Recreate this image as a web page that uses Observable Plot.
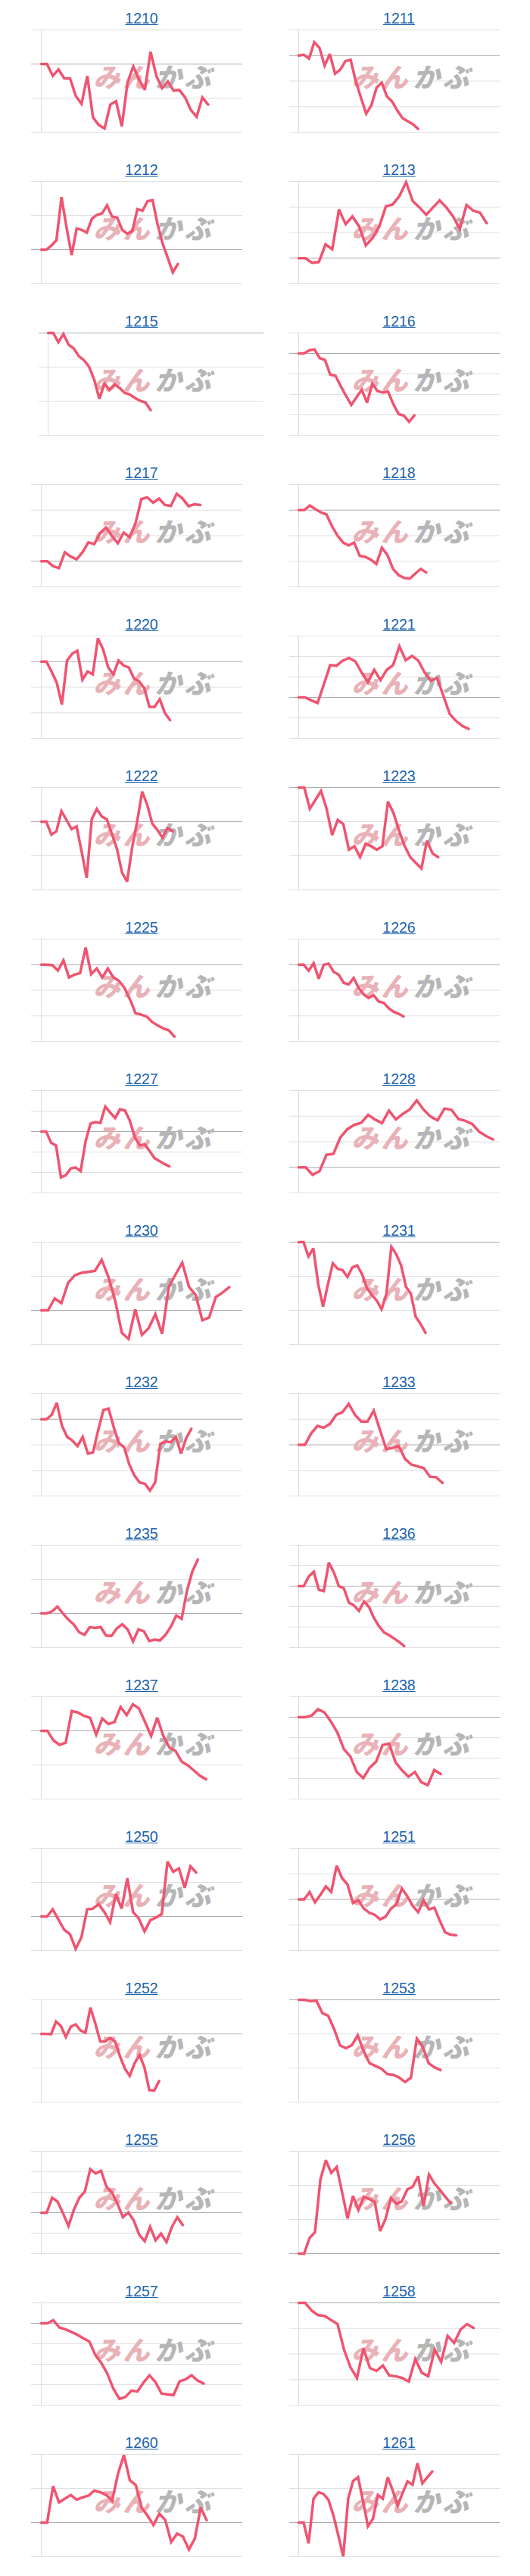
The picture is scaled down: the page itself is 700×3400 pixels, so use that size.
<!DOCTYPE html>
<html><head><meta charset="utf-8">
<script src="https://cdn.jsdelivr.net/npm/d3@7"></script>
<script src="https://cdn.jsdelivr.net/npm/@observablehq/plot@0.6"></script>
<style>
body{margin:0;background:#fff;}
#root{position:relative;width:700px;height:3400px;overflow:hidden;}
.cell{position:absolute;width:350px;height:200px;}
.ttl{position:absolute;top:13px;width:200px;text-align:center;font-family:"Liberation Sans",Arial,sans-serif;font-size:19.5px;line-height:22px;}
.ttl a{color:#1b63ad;text-decoration:underline;}
.cell svg{position:absolute;left:0;top:30px;overflow:visible;}
</style></head><body><div id="root"></div>
<script>
// panel codes, in reading order (two per row)
const codes = [1210,1211,1212,1213,1215,1216,1217,1218,1220,1221,1222,1223,1225,1226,1227,1228,1230,1231,1232,1233,1235,1236,1237,1238,1250,1251,1252,1253,1255,1256,1257,1258,1260,1261];

// series values (change from the first day, in gridline steps)
const v1210 = [0,0,-0.35,-0.16,-0.42,-0.42,-0.94,-1.17,-0.35,-1.57,-1.79,-1.89,-1.19,-1.09,-1.83,-0.53,-0.07,-0.46,-0.76,0.36,-0.35,-0.71,-0.51,-0.78,-0.76,-0.98,-1.35,-1.55,-0.98,-1.19];
const v1211 = [0,0.03,-0.12,0.52,0.30,-0.40,0.06,-0.71,-0.56,-0.22,-0.17,-1.01,-1.65,-2.28,-1.95,-1.26,-1.06,-1.60,-1.80,-2.15,-2.45,-2.57,-2.69,-2.87];
const v1212 = [0,0,0.12,0.28,1.54,0.65,-0.16,0.62,0.58,0.50,0.91,1.02,1.06,1.30,0.97,0.94,0.58,0.47,0.54,1.19,1.14,1.42,1.45,0.73,0.17,-0.24,-0.67,-0.42];
const v1213 = [0,0,-0.18,-0.15,0.54,0.35,1.90,1.33,1.63,1.24,0.50,0.79,1.24,2.03,2.10,2.43,2.97,2.23,1.98,1.70,1.98,2.26,1.98,1.63,1.14,2.08,1.86,1.78,1.37];
const v1215 = [0,0,-0.27,-0.03,-0.34,-0.45,-0.68,-0.80,-0.99,-1.37,-1.93,-1.49,-1.67,-1.51,-1.62,-1.76,-1.81,-1.91,-1.99,-2.04,-2.26];
const v1216 = [0,0,0.15,0.20,-0.23,-0.32,-1.04,-1.09,-1.60,-2.07,-2.52,-2.14,-1.77,-2.41,-1.49,-1.84,-1.91,-1.87,-2.48,-2.96,-3.04,-3.34,-3.03];
const v1217 = [0,0,-0.19,-0.27,0.35,0.18,0.08,0.35,0.74,0.67,1.10,1.32,0.99,0.70,1.12,0.94,1.48,2.43,2.50,2.29,2.45,2.20,2.16,2.64,2.45,2.15,2.23,2.20];
const v1218 = [0,0,0.18,0.04,-0.09,-0.17,-0.63,-1.00,-1.27,-1.38,-1.27,-1.79,-1.83,-1.94,-2.11,-1.47,-1.76,-2.30,-2.54,-2.65,-2.68,-2.49,-2.30,-2.44];
const v1220 = [0,0,-0.39,-0.82,-1.68,0.04,0.31,0.42,-0.71,-0.39,-0.50,0.91,0.48,-0.23,-0.50,0.04,-0.15,-0.23,-0.66,-0.77,-1.04,-1.77,-1.77,-1.47,-2.01,-2.29];
const v1221 = [0,0,-0.14,-0.27,0.64,1.58,1.55,1.80,1.93,1.76,1.22,0.74,1.35,0.85,1.35,1.58,2.50,1.82,2.03,1.80,1.22,0.81,0.95,0.07,-0.81,-1.15,-1.39,-1.54];
const v1222 = [0,0,-0.38,-0.28,0.31,0.05,-0.22,-0.14,-0.88,-1.65,0.07,0.37,0.15,0.07,-0.36,-0.80,-1.49,-1.76,-0.76,0.01,0.88,0.49,-0.06,-0.24,-0.47,-0.19,-0.28];
const v1223 = [0,0,-0.62,-0.36,-0.10,-0.62,-1.39,-0.95,-1.07,-1.82,-1.72,-2.04,-1.65,-1.72,-1.82,-1.72,-0.41,-0.75,-1.27,-1.72,-2.04,-2.21,-2.37,-1.56,-1.93,-2.04];
const v1225 = [0,0,-0.02,-0.23,0.17,-0.50,-0.39,-0.33,0.67,-0.37,-0.15,-0.50,-0.15,-0.50,-0.63,-0.91,-1.36,-1.90,-1.95,-2.03,-2.24,-2.38,-2.49,-2.57,-2.81];
const v1226 = [0,0,-0.23,0.06,-0.55,-0.01,0.04,-0.28,-0.39,-0.71,-0.77,-0.52,-0.91,-1.16,-1.30,-1.19,-1.44,-1.49,-1.70,-1.84,-1.92,-2.03];
const v1227 = [0,0,-0.55,-0.68,-2.24,-2.13,-1.80,-1.76,-1.93,-0.48,0.39,0.46,0.42,1.22,0.93,0.66,1.09,1.03,0.52,-0.28,-0.68,-0.62,-0.95,-1.30,-1.44,-1.59,-1.70];
const v1228 = [0,0,-0.29,-0.15,0.49,0.53,1.17,1.49,1.66,1.74,2.05,1.87,1.73,2.22,1.87,2.09,2.27,2.62,2.25,1.98,1.84,2.30,2.25,1.89,1.82,1.69,1.39,1.22,1.09];
const v1230 = [0,0,0.35,0.21,0.81,1.03,1.10,1.13,1.16,1.48,0.98,0.29,-0.66,-0.84,0.03,-0.72,-0.52,-0.11,-0.69,0.69,1.05,1.40,0.69,0.45,-0.29,-0.21,0.39,0.52,0.68];
const v1231 = [0,0,-0.42,-0.18,-1.23,-1.89,-1.23,-0.62,-0.78,-0.82,-1.02,-0.74,-0.68,-0.94,-1.35,-1.55,-1.71,-1.97,-1.51,-0.14,-0.35,-0.68,-1.31,-1.51,-2.19,-2.40,-2.66];
const v1232 = [0,0,0.17,0.64,-0.26,-0.69,-0.83,-1.05,-0.69,-1.34,-1.30,-0.42,0.36,0.42,-0.31,-0.94,-1.09,-1.77,-2.20,-2.47,-2.52,-2.79,-2.47,-0.96,-0.87,-0.90,-0.69,-1.34,-0.74,-0.37];
const v1233 = [0,0,0.45,0.74,0.67,0.82,1.17,1.28,1.60,1.17,0.91,0.91,1.34,0.58,-0.17,-0.12,-0.04,-0.55,-0.77,-0.84,-0.91,-1.25,-1.27,-1.49];
const v1235 = [0,0,0.06,0.20,0,-0.18,-0.32,-0.55,-0.63,-0.40,-0.42,-0.40,-0.65,-0.66,-0.44,-0.32,-0.47,-0.82,-0.47,-0.52,-0.81,-0.77,-0.79,-0.63,-0.39,-0.06,-0.16,0.67,1.24,1.58];
const v1236 = [0,0,0.47,0.70,-0.17,-0.24,1.15,0.67,0,-0.11,-0.81,-0.94,-1.21,-0.75,-1.02,-1.56,-1.96,-2.26,-2.40,-2.56,-2.73,-2.93];
const v1237 = [0,0,-0.28,-0.41,-0.35,0.58,0.54,0.44,0.38,-0.11,0.36,0.20,0.26,0.70,0.46,0.78,0.66,0.26,-0.15,0.39,-0.15,-0.49,-0.59,-0.90,-1.01,-1.16,-1.32,-1.42];
const v1238 = [0,0,0.08,0.39,0.23,-0.22,-0.75,-1.56,-1.92,-2.68,-2.98,-2.47,-2.17,-1.36,-1.29,-2.20,-2.60,-2.91,-2.68,-3.18,-3.32,-2.58,-2.78];
const v1250 = [0,0,0.21,-0.09,-0.39,-0.52,-0.95,-0.61,0.21,0.23,0.36,0.13,-0.17,0.66,0.23,1.12,0.13,-0.06,-0.44,-0.11,-0.03,0.07,1.61,1.31,1.41,0.84,1.47,1.29];
const v1251 = [0,0,0.29,-0.11,0.18,0.51,0.29,1.32,0.83,0.58,-0.14,-0.03,-0.36,-0.52,-0.60,-0.78,-0.68,-0.36,-0.19,0.43,0.13,-0.25,-0.50,-0.03,-0.39,-0.32,-0.84,-1.29,-1.38,-1.40];
const v1252 = [0,0,-0.01,0.36,0.23,-0.09,0.21,0.28,0.10,0.04,0.77,0.31,-0.22,-0.22,-0.12,-0.22,-0.65,-1.01,-1.23,-0.86,-0.62,-0.98,-1.65,-1.66,-1.38];
const v1253 = [0,0,-0.04,-0.02,-0.39,-0.47,-0.86,-1.34,-1.42,-1.33,-1.04,-1.50,-1.86,-1.94,-2.02,-2.18,-2.20,-2.28,-2.41,-2.29,-1.14,-1.38,-1.86,-1.98,-2.06];
const v1255 = [0,0,0.73,0.54,-0.03,-0.65,0.15,0.73,1.03,2.13,1.92,2.05,1.26,0.99,0.44,-0.22,0.01,-0.38,-1.08,-1.39,-0.69,-1.35,-1.02,-1.44,-0.69,-0.22,-0.60];
const v1256 = [0,0,0.46,0.63,2.17,2.74,2.37,2.54,1.80,1.03,1.69,1.28,1.67,1.60,1.52,0.66,1.02,1.63,1.46,1.53,1.88,1.96,2.27,1.39,2.32,2.06,1.87,1.67,1.48];
const v1257 = [0,0,0.15,-0.20,-0.29,-0.42,-0.56,-0.73,-0.89,-1.55,-1.94,-2.47,-3.20,-3.69,-3.60,-3.29,-3.33,-2.90,-2.54,-2.87,-3.43,-3.47,-3.51,-2.84,-2.74,-2.54,-2.80,-2.94];
const v1258 = [0,0,-0.30,-0.48,-0.51,-0.67,-0.83,-1.83,-2.52,-2.94,-1.78,-2.55,-2.66,-2.45,-2.84,-2.87,-2.94,-3.08,-2.20,-2.73,-2.87,-1.83,-2.31,-1.29,-1.57,-1.04,-0.83,-0.98];
const v1260 = [0,0,1.07,0.59,0.70,0.81,0.67,0.74,0.79,0.94,0.89,0.81,0.64,1.44,1.98,1.24,1.10,0.44,0.20,-0.07,0.26,0.07,-0.57,-0.32,-0.41,-0.79,-0.47,0.44,0.07];
const v1261 = [0,0,-0.61,0.70,0.89,0.84,0.67,0.22,-0.37,-0.99,0.70,1.22,1.33,0.63,-0.11,0.11,0.81,0.70,1.33,0.94,0.50,0.87,1.21,1.11,1.74,1.15,1.33,1.50];

// y gridline range (lowest and highest gridline, in steps), per panel
const gridLow  = [-2,-3,-1,-1,-3,-4,-1,-3,-3,-2,-2,-3,-3,-3,-3,-1,-1,-3,-3,-2,-1,-3,-2,-4,-1,-2,-2,-3,-2,0,-4,-4,-1,-1];
const gridHigh = [ 1, 1, 2, 3, 0, 1, 3, 1, 1, 3, 1, 0, 1, 1, 2, 3, 2, 0, 1, 2, 2, 2, 1, 1, 2, 2, 1, 0, 3,3, 1, 0, 2, 2];
// length of the x window (days), per panel
const xWindow = [35.0,38.8,39.8,30.0,42.1,38.3,34.2,36.3,39.1,32.0,39.9,36.1,36.3,40.3,40.9,29.0,30.0,41.3,38.9,32.2,37.3,40.1,33.0,31.2,35.1,37.1,41.0,34.1,37.0,37.1,33.5,31.1,34.1,40.7];

const watermark = ["みん", "かぶ"];
const wideFrame = new Set([1215]);

const seriesByCode = {1210:v1210,1211:v1211,1212:v1212,1213:v1213,1215:v1215,1216:v1216,1217:v1217,1218:v1218,1220:v1220,1221:v1221,1222:v1222,1223:v1223,1225:v1225,1226:v1226,1227:v1227,1228:v1228,1230:v1230,1231:v1231,1232:v1232,1233:v1233,1235:v1235,1236:v1236,1237:v1237,1238:v1238,1250:v1250,1251:v1251,1252:v1252,1253:v1253,1255:v1255,1256:v1256,1257:v1257,1258:v1258,1260:v1260,1261:v1261};

const root = document.getElementById("root");
codes.forEach((code, i) => {
  const col = i % 2, row = Math.floor(i / 2);
  const cell = document.createElement("div");
  cell.className = "cell";
  cell.style.left = (col * 350) + "px";
  cell.style.top = (row * 200) + "px";
  const ttl = document.createElement("div");
  ttl.className = "ttl";
  ttl.style.left = (col === 0 ? 187 - 100 : 177 - 100) + "px";
  const a = document.createElement("a");
  a.href = "#"; a.textContent = String(code);
  ttl.appendChild(a);
  cell.appendChild(ttl);

  let mL, inset, mR;
  if (wideFrame.has(code)) { mL = 51; inset = 12; mR = 2; }
  else if (col === 0) { mL = 41; inset = 13; mR = 30; }
  else { mL = 32; inset = 12; mR = 40; }
  const lo = gridLow[i], hi = gridHigh[i];
  const ticks = d3.range(lo, hi + 1);
  const data = seriesByCode[code].map((v, d) => ({d, v}));
  const splitX = (col === 0 ? 201 : 192) - mL;
  const wmFont = {fontSize: 35, fontWeight: 900, fontStyle: "italic", fontFamily: "Noto Sans CJK JP", lineAnchor: "middle", frameAnchor: "top-left", dy: 64};
  const svg = Plot.plot({
    width: 350, height: 170,
    marginTop: 9, marginBottom: 26, marginLeft: mL, marginRight: mR,
    x: {domain: [0, xWindow[i]], insetLeft: inset, axis: null},
    y: {domain: [lo, hi], axis: null},
    marks: [
      Plot.ruleY(ticks.filter(t => t !== 0), {stroke: "#e0e0e0", strokeWidth: 1}),
      Plot.ruleX([0], {stroke: "#dcdcdc", strokeWidth: 1}),
      Plot.ruleY([0], {stroke: "#ababab", strokeWidth: 1}),
      Plot.text([watermark[0]], {...wmFont, text: d => d, textAnchor: "end", dx: splitX, fill: "#e9b2b7"}),
      Plot.text([watermark[1]], {...wmFont, text: d => d, textAnchor: "start", dx: splitX + 3, fill: "#b6b6b6"}),
      Plot.line(data, {x: "d", y: "v", stroke: "#ef5470", strokeWidth: 3.5, strokeLinejoin: "miter", strokeMiterlimit: 3})
    ]
  });
  d3.select(svg).selectAll("text").style("letter-spacing", "4px");
  cell.appendChild(svg);
  root.appendChild(cell);
});
</script></body></html>
